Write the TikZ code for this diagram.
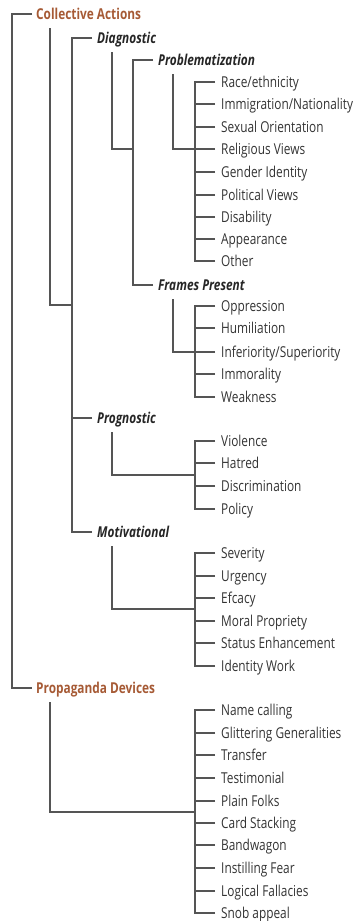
\documentclass[tikz,border=0pt]{standalone}
\usepackage{fontspec}
\setmainfont[FakeStretch=0.79]{Open Sans}
\usepackage{tikz}

\definecolor{rust}{HTML}{A65A35}
\definecolor{inkgray}{HTML}{333333}
\definecolor{linegray}{HTML}{555555}

\tikzset{
  item/.style={anchor=west,inner xsep=6pt,inner ysep=2pt,text height=10.5pt,text depth=0pt,
    font=\fontsize{15}{17}\selectfont,text=inkgray},
  frame/.style={item,inner xsep=5pt,font=\fontsize{15}{17}\selectfont\bfseries\itshape,text=black!85},
  group/.style={item,inner xsep=4pt,font=\fontsize{15}{17}\selectfont\bfseries,text=rust},
  link/.style={draw=linegray,line width=1.4pt}
}

\begin{document}
\begin{tikzpicture}[x=1pt,y=-1pt]
	\useasboundingbox (0,0) rectangle (356,921);
			\node[group] (CollectiveActions) at (32,14) {Collective Actions};
			\node[group] (PropagandaDevices) at (32,688) {Propaganda Devices};
			
			\node[frame] (Diagnostic) at (92,38) {Diagnostic};
			\node[frame] (Problematization) at (153,60) {Problematization};
			\node[frame] (FramesPresent) at (153,285) {Frames Present};
			\node[frame] (Prognostic) at (92,418) {Prognostic};
			\node[frame] (Motivational) at (92,532) {Motivational};
			
			\node[item] (Race) at (215,82) {Race/ethnicity};
			\node[item] (Immigration) at (215,104) {Immigration/Nationality};
			\node[item] (Sexual) at (215,127) {Sexual Orientation};
			\node[item] (Religious) at (215,149) {Religious Views};
			\node[item] (Gender) at (215,172) {Gender Identity};
			\node[item] (Political) at (215,195) {Political Views};
			\node[item] (Disability) at (215,217) {Disability};
			\node[item] (Appearance) at (215,239) {Appearance};
			\node[item] (Other) at (215,261) {Other};
			
			\node[item] (Oppression) at (215,306) {Oppression};
			\node[item] (Humiliation) at (215,328) {Humiliation};
			\node[item] (Inferiority) at (215,352) {Inferiority/Superiority};
			\node[item] (Immorality) at (215,374) {Immorality};
			\node[item] (Weakness) at (215,397) {Weakness};
			
			\node[item] (Violence) at (215,441) {Violence};
			\node[item] (Hatred) at (215,463) {Hatred};
			\node[item] (Discrimination) at (215,486) {Discrimination};
			\node[item] (Policy) at (215,509) {Policy};
			
			\node[item] (Severity) at (215,553) {Severity};
			\node[item] (Urgency) at (215,576) {Urgency};
			\node[item] (Efcacy) at (215,598) {Efcacy};
			\node[item] (Moral) at (215,621) {Moral Propriety};
			\node[item] (Status) at (215,643) {Status Enhancement};
			\node[item] (Identity) at (215,666) {Identity Work};
			
			\node[item] (NameCalling) at (215,710) {Name calling};
			\node[item] (Glittering) at (215,733) {Glittering Generalities};
			\node[item] (Transfer) at (215,755) {Transfer};
			\node[item] (Testimonial) at (215,778) {Testimonial};
			\node[item] (PlainFolks) at (215,801) {Plain Folks};
			\node[item] (CardStacking) at (215,823) {Card Stacking};
			\node[item] (Bandwagon) at (215,845) {Bandwagon};
			\node[item] (Instilling) at (215,868) {Instilling Fear};
			\node[item] (Logical) at (215,891) {Logical Fallacies};
			\node[item] (Snob) at (215,913) {Snob appeal};
			
			% branch points
			\coordinate (RootBus) at (12,350);
			\coordinate (CABus) at (72,305);
			\coordinate (DiagBus) at (133,149);
			\coordinate (ProbBus) at (195,149);
			\coordinate (FramesBus) at (195,352);
			\coordinate (PrognBus) at (195,475);
			\coordinate (MotivBus) at (195,609);
			\coordinate (PropBus) at (195,812);
			
			\draw[link] (CollectiveActions.west) -| (RootBus) |- (PropagandaDevices.west);
			
			\draw[link] ([xshift=18pt,yshift=-7pt]CollectiveActions.south west) |- (CABus);
			\draw[link] (Diagnostic.west) -| (CABus);
			\draw[link] (Prognostic.west) -| (CABus);
			\draw[link] (Motivational.west) -| (CABus);
			
			\draw[link] ([xshift=20pt,yshift=-7pt]Diagnostic.south west) |- (DiagBus);
			\draw[link] (Problematization.west) -| (DiagBus);
			\draw[link] (FramesPresent.west) -| (DiagBus);
			
			\draw[link] ([xshift=20pt,yshift=-7pt]Problematization.south west) |- (ProbBus);
			\draw[link] (Race.west) -| (ProbBus);
			\draw[link] (Immigration.west) -| (ProbBus);
			\draw[link] (Sexual.west) -| (ProbBus);
			\draw[link] (Religious.west) -| (ProbBus);
			\draw[link] (Gender.west) -| (ProbBus);
			\draw[link] (Political.west) -| (ProbBus);
			\draw[link] (Disability.west) -| (ProbBus);
			\draw[link] (Appearance.west) -| (ProbBus);
			\draw[link] (Other.west) -| (ProbBus);
			
			\draw[link] ([xshift=20pt,yshift=-7pt]FramesPresent.south west) |- (FramesBus);
			\draw[link] (Oppression.west) -| (FramesBus);
			\draw[link] (Humiliation.west) -| (FramesBus);
			\draw[link] (Inferiority.west) -| (FramesBus);
			\draw[link] (Immorality.west) -| (FramesBus);
			\draw[link] (Weakness.west) -| (FramesBus);
			
			\draw[link] ([xshift=20pt,yshift=-7pt]Prognostic.south west) |- (PrognBus);
			\draw[link] (Violence.west) -| (PrognBus);
			\draw[link] (Hatred.west) -| (PrognBus);
			\draw[link] (Discrimination.west) -| (PrognBus);
			\draw[link] (Policy.west) -| (PrognBus);
			
			\draw[link] ([xshift=20pt,yshift=-7pt]Motivational.south west) |- (MotivBus);
			\draw[link] (Severity.west) -| (MotivBus);
			\draw[link] (Urgency.west) -| (MotivBus);
			\draw[link] (Efcacy.west) -| (MotivBus);
			\draw[link] (Moral.west) -| (MotivBus);
			\draw[link] (Status.west) -| (MotivBus);
			\draw[link] (Identity.west) -| (MotivBus);
			
			\draw[link] ([xshift=18pt,yshift=-7pt]PropagandaDevices.south west) |- (PropBus);
			\draw[link] (NameCalling.west) -| (PropBus);
			\draw[link] (Glittering.west) -| (PropBus);
			\draw[link] (Transfer.west) -| (PropBus);
			\draw[link] (Testimonial.west) -| (PropBus);
			\draw[link] (PlainFolks.west) -| (PropBus);
			\draw[link] (CardStacking.west) -| (PropBus);
			\draw[link] (Bandwagon.west) -| (PropBus);
			\draw[link] (Instilling.west) -| (PropBus);
			\draw[link] (Logical.west) -| (PropBus);
			\draw[link] (Snob.west) -| (PropBus);
\end{tikzpicture}
\end{document}
